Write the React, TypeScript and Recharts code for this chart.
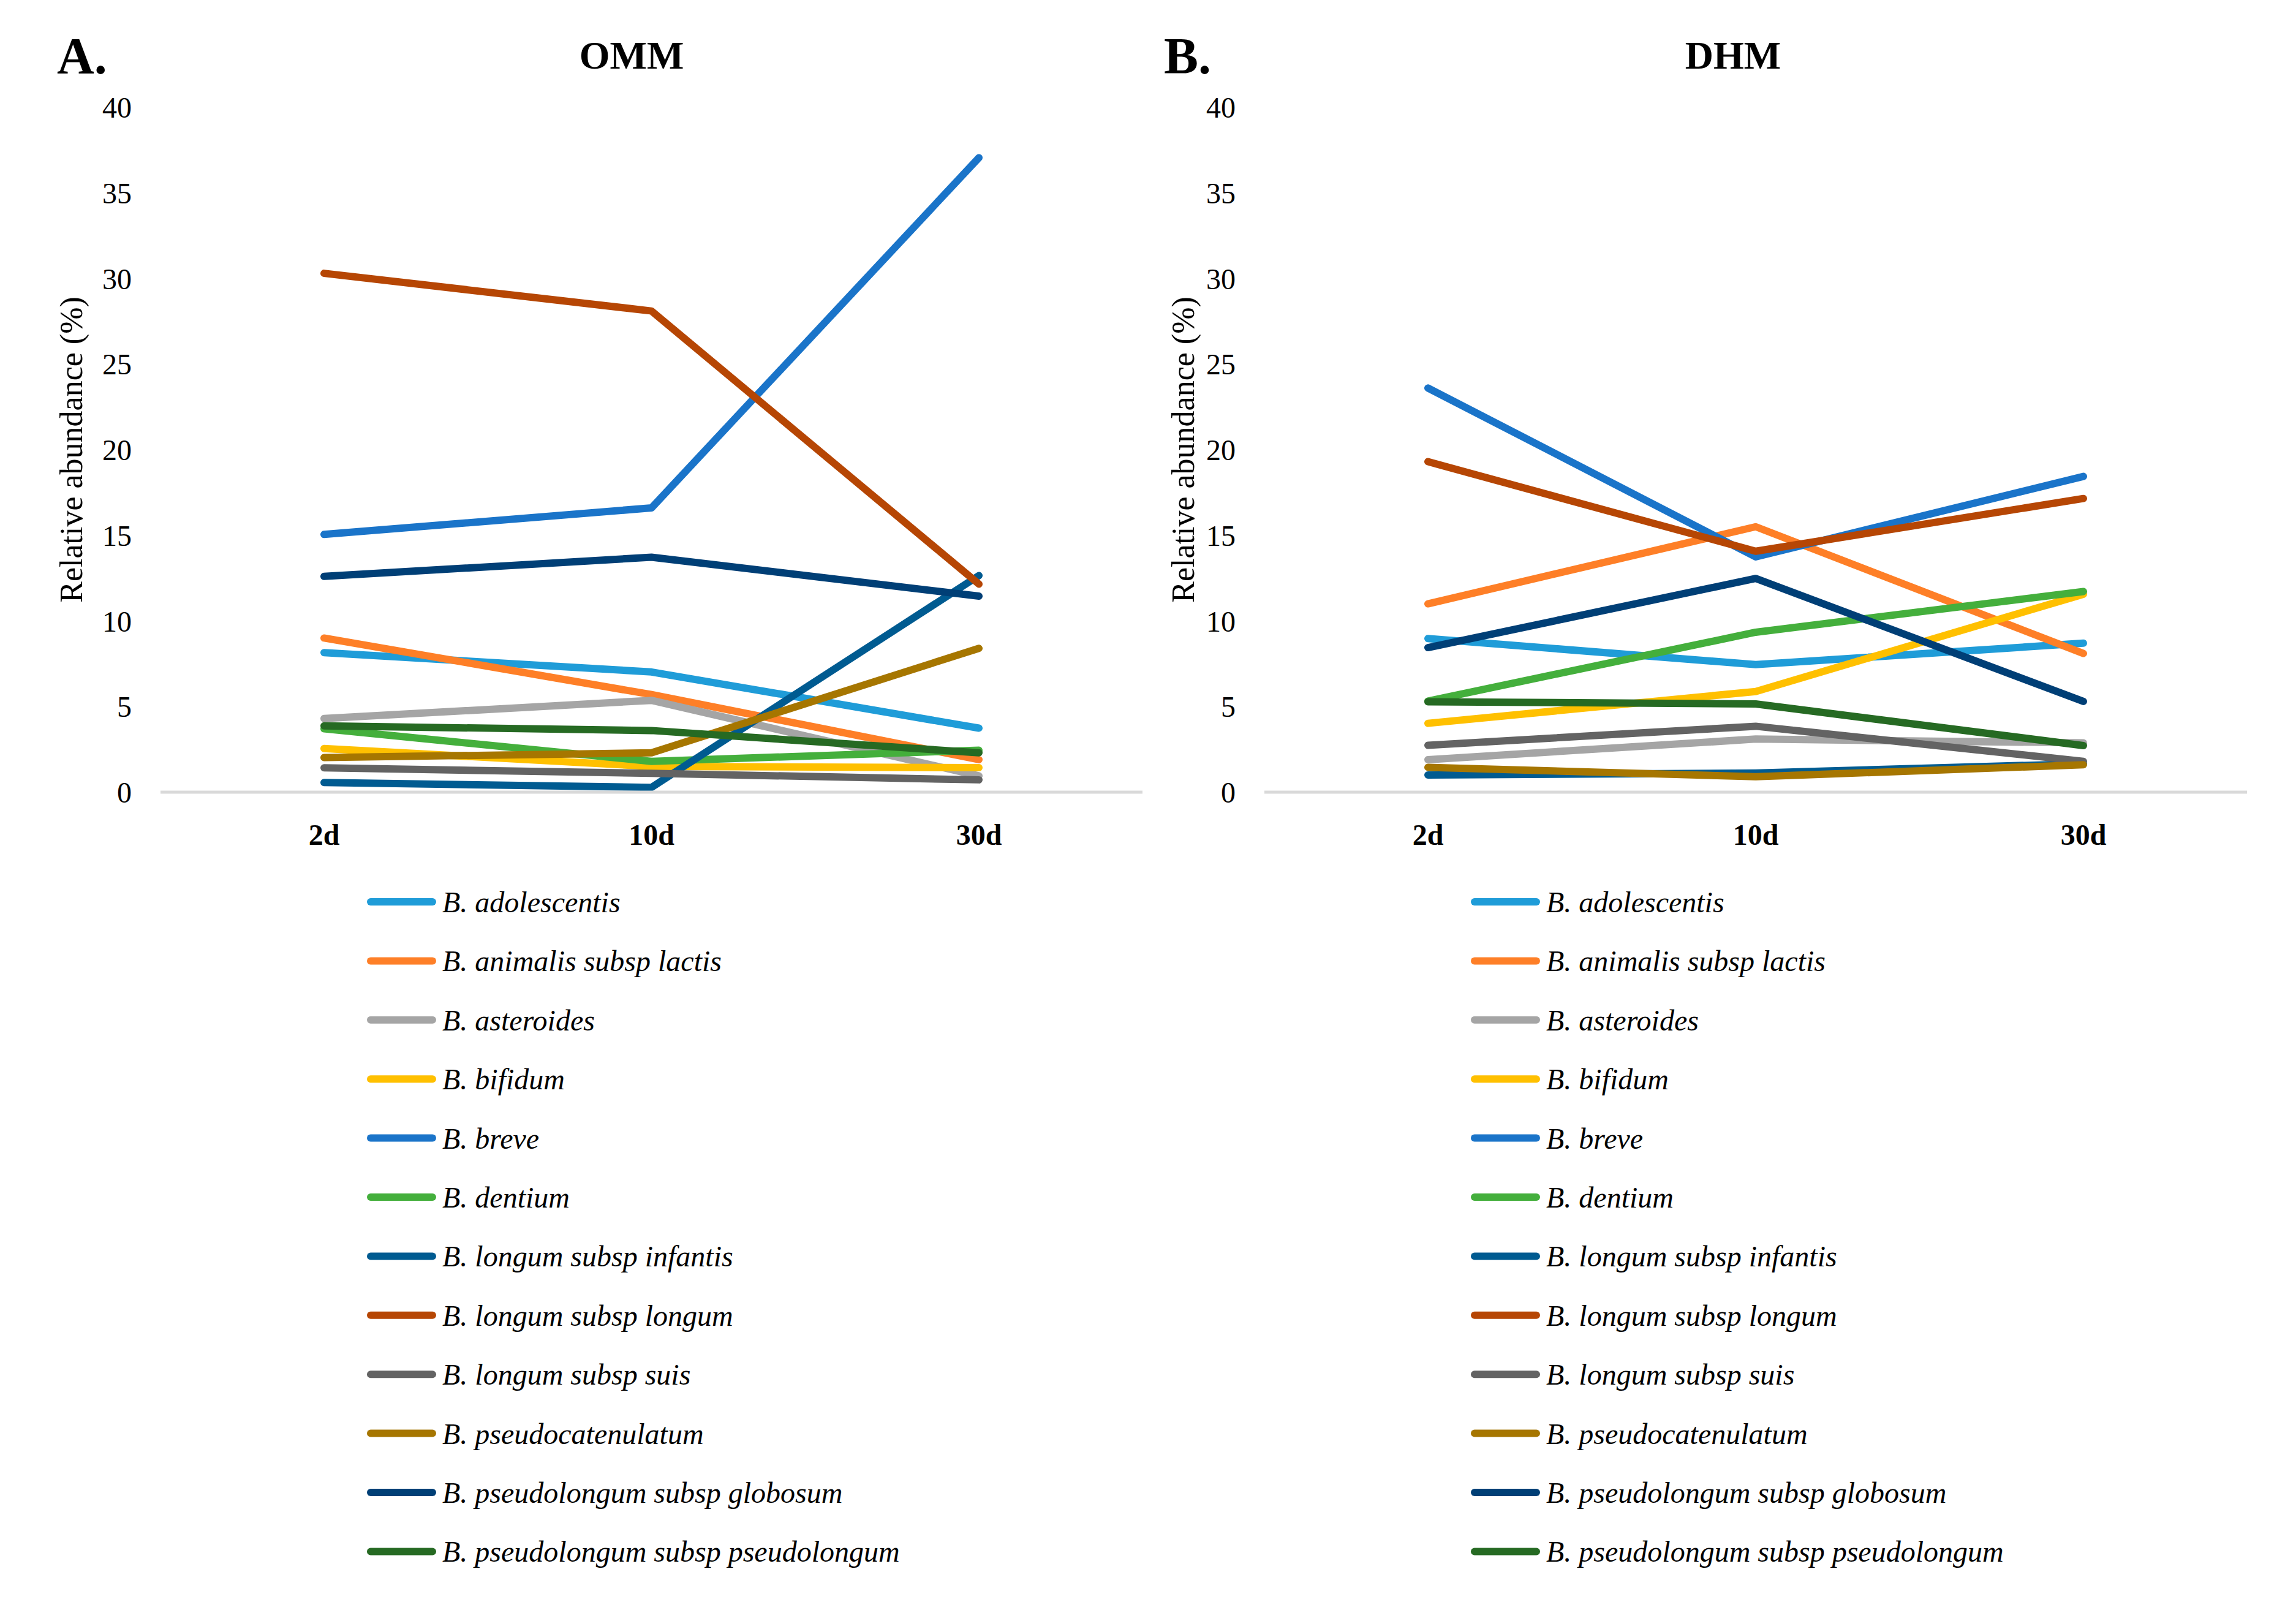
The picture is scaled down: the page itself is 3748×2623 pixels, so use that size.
import { LineChart, Line, XAxis, YAxis } from "recharts";

const FONT = '"Liberation Serif", "Times New Roman", serif';

const species = [
  "B. adolescentis",
  "B. animalis subsp lactis",
  "B. asteroides",
  "B. bifidum",
  "B. breve",
  "B. dentium",
  "B. longum subsp infantis",
  "B. longum subsp longum",
  "B. longum subsp suis",
  "B. pseudocatenulatum",
  "B. pseudolongum subsp globosum",
  "B. pseudolongum subsp pseudolongum",
];

const colors = [
  "#1f9cd8",
  "#fe7f27",
  "#a5a5a5",
  "#ffc000",
  "#1a74c9",
  "#44af3c",
  "#005b91",
  "#b64604",
  "#636363",
  "#a67600",
  "#003f76",
  "#266a23",
];

const days = ["2d", "10d", "30d"];
const yTicks = [0, 5, 10, 15, 20, 25, 30, 35, 40];

// values in species order, one array per time point
const omm2d = [8.15, 9.0, 4.3, 2.55, 15.05, 3.7, 0.56, 30.3, 1.42, 2.02, 12.6, 3.87];
const omm10d = [7.02, 5.7, 5.36, 1.5, 16.6, 1.8, 0.28, 28.1, 1.1, 2.3, 13.72, 3.6];
const omm30d = [3.74, 1.9, 0.95, 1.43, 37.05, 2.45, 12.65, 12.15, 0.72, 8.4, 11.45, 2.3];

const dhm2d = [8.97, 11.0, 1.9, 4.02, 23.6, 5.32, 1.0, 19.3, 2.74, 1.45, 8.44, 5.28];
const dhm10d = [7.45, 15.5, 3.1, 5.88, 13.74, 9.34, 1.12, 14.07, 3.85, 0.9, 12.48, 5.15];
const dhm30d = [8.7, 8.1, 2.88, 11.56, 18.44, 11.72, 1.66, 17.15, 1.8, 1.6, 5.3, 2.72];

function buildRows(cols: number[][]) {
  return days.map((d, i) => {
    const row: any = { day: d };
    species.forEach((s, j) => {
      row[s] = cols[i][j];
    });
    return row;
  });
}

const ommData = buildRows([omm2d, omm10d, omm30d]);
const dhmData = buildRows([dhm2d, dhm10d, dhm30d]);

function Panel({ data, left, yWidth, marginRight, labelOffset }: any) {
  return (
    <div style={{ position: "absolute", left, top: 0, fontFamily: FONT }}>
      <LineChart
        width={1874}
        height={1420}
        data={data}
        margin={{ top: 175, right: marginRight, bottom: 0, left: 0 }}
        style={{ fontFamily: FONT }}
      >
        <XAxis
          dataKey="day"
          height={127}
          padding={{ left: 267, right: 267 }}
          tickLine={false}
          tickSize={0}
          tickMargin={52}
          axisLine={{ stroke: "#d9d9d9", strokeWidth: 5 }}
          tick={{ fill: "#000", fontSize: 48, fontWeight: "bold", fontFamily: FONT }}
        />
        <YAxis
          width={yWidth}
          domain={[0, 40]}
          ticks={yTicks}
          interval={0}
          axisLine={false}
          tickLine={false}
          tickSize={0}
          tickMargin={47}
          tick={{ fill: "#000", fontSize: 48, fontFamily: FONT }}
          label={{
            value: "Relative abundance (%)",
            angle: -90,
            position: "insideLeft",
            offset: labelOffset,
            fontSize: 52,
            fontFamily: FONT,
            fill: "#000",
            style: { textAnchor: "middle", fontSize: 52, fontFamily: FONT, fill: "#000" },
          }}
        />
        {species.map((s, i) => (
          <Line
            key={s}
            type="linear"
            dataKey={s}
            stroke={colors[i]}
            strokeWidth={12}
            strokeLinecap="round"
            strokeLinejoin="round"
            dot={false}
            activeDot={false}
            isAnimationActive={false}
          />
        ))}
      </LineChart>
    </div>
  );
}

function LegendBlock({ x }: { x: number }) {
  return (
    <g>
      {species.map((s, i) => {
        const cy = 1472 + i * 96.4;
        return (
          <g key={s}>
            <line
              x1={x + 6}
              x2={x + 107}
              y1={cy}
              y2={cy}
              stroke={colors[i]}
              strokeWidth={12}
              strokeLinecap="round"
            />
            <text
              x={x + 123}
              y={cy + 17}
              fontSize={48}
              fontStyle="italic"
              fontFamily={FONT}
              fill="#000"
            >
              {s}
            </text>
          </g>
        );
      })}
    </g>
  );
}

export default function App() {
  return (
    <div
      style={{
        position: "absolute",
        left: 0,
        top: 0,
        width: 3748,
        height: 2623,
        background: "#fff",
        fontFamily: FONT,
      }}
    >
      <Panel data={ommData} left={0} yWidth={262} marginRight={9} labelOffset={116} />
      <Panel data={dhmData} left={1874} yWidth={190} marginRight={80} labelOffset={57} />
      <svg
        width={3748}
        height={2623}
        style={{ position: "absolute", left: 0, top: 0, pointerEvents: "none" }}
      >
        <text x={93} y={120} fontSize={84} fontWeight="bold" fontFamily={FONT}>
          A.
        </text>
        <text x={1031} y={112} fontSize={64} fontWeight="bold" fontFamily={FONT} textAnchor="middle">
          OMM
        </text>
        <text x={1900} y={120} fontSize={84} fontWeight="bold" fontFamily={FONT}>
          B.
        </text>
        <text x={2829} y={112} fontSize={64} fontWeight="bold" fontFamily={FONT} textAnchor="middle">
          DHM
        </text>
        <LegendBlock x={599} />
        <LegendBlock x={2401} />
      </svg>
    </div>
  );
}
